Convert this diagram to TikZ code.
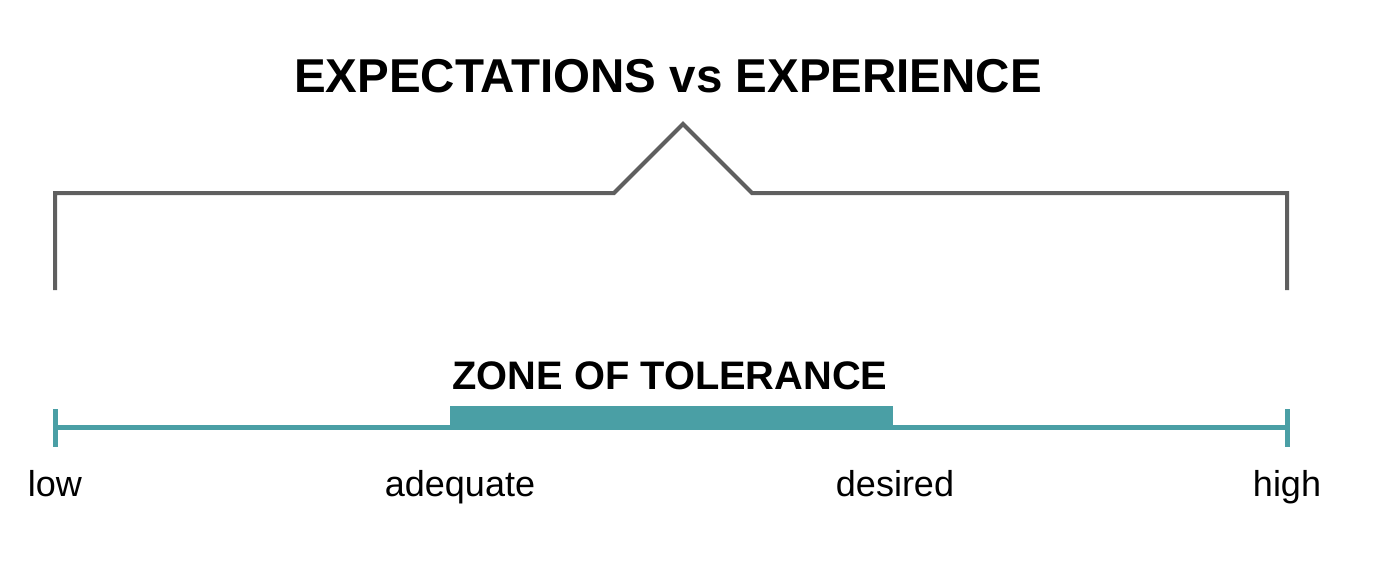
\documentclass[tikz,border=0pt]{standalone}
\usepackage{fontspec}
\setmainfont{Liberation Sans}
\definecolor{bracketgray}{HTML}{5F5F5F}
\definecolor{zoneteal}{HTML}{4A9FA5}
\begin{document}
\begin{tikzpicture}[x=1pt,y=-1pt,
  bracket/.style={draw=bracketgray,line width=4pt,line join=miter},
  scaleline/.style={draw=zoneteal,line width=5pt},
  tickline/.style={draw=zoneteal,line width=5pt},
  title/.style={anchor=base,inner sep=0pt,font=\bfseries\fontsize{47.5}{50}\selectfont},
  zone/.style={anchor=base,inner sep=0pt,font=\bfseries\fontsize{39.8}{42}\selectfont},
  lbl/.style={anchor=base,inner sep=0pt,font=\fontsize{36}{40}\selectfont}]
\useasboundingbox (0,0) rectangle (1380,568);
% title
\node[title] (t) at (668,92) {EXPECTATIONS vs EXPERIENCE};
% bracket
\coordinate (bl) at (55,290);
\coordinate (bll) at (55,193);
\coordinate (p1) at (614,193);
\coordinate (apex) at (683,124);
\coordinate (p2) at (752,193);
\coordinate (brr) at (1287,193);
\coordinate (br) at (1287,290);
\draw[bracket] (bl) -- (bll) -- (p1) -- (apex) -- (p2) -- (brr) -- (br);
% zone
\node[zone] (z) at (670,389) {ZONE OF TOLERANCE};
\coordinate (lo) at (55,427);
\coordinate (hi) at (1287,427);
\draw[scaleline] (lo) -- (hi);
\draw[tickline] (55,409) -- (55,447);
\draw[tickline] (1287,409) -- (1287,447);
\fill[zoneteal] (450,406) rectangle (893,429);
% labels
\node[lbl] (low) at (55,496) {low};
\node[lbl] (adequate) at (460,496) {adequate};
\node[lbl] (desired) at (895,496) {desired};
\node[lbl] (high) at (1287,496) {high};
\end{tikzpicture}
\end{document}
